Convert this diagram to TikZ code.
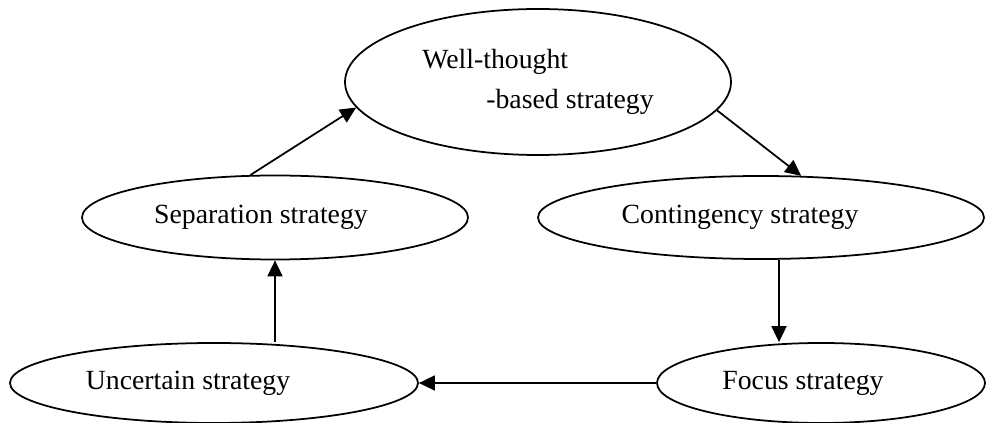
\documentclass[tikz,border=0pt]{standalone}
\usepackage{fontspec}
\setmainfont{Liberation Serif}
\usetikzlibrary{shapes.geometric,arrows.meta}
\tikzset{
	strat/.style={draw,ellipse,line width=1pt,inner sep=1pt,font=\fontsize{15.8}{22.8}\selectfont},
	arr/.style={-{Triangle[length=0.32cm,width=0.3cm]},line width=1pt}
}
\begin{document}
\begin{tikzpicture}
				\useasboundingbox (0,0) rectangle (19.74,8.46);
				\node[strat,minimum width=7.72cm,minimum height=2.92cm,align=left] (wellthought) at (10.76,6.82) {Well-thought\\\hspace*{1.28cm}-based strategy};
				\node[strat,minimum width=7.72cm,minimum height=1.68cm] (separation) at (5.50,4.11) {Separation strategy\hspace*{0.56cm}};
				\node[strat,minimum width=8.92cm,minimum height=1.66cm] (contingency) at (15.22,4.11) {Contingency strategy\hspace*{0.84cm}};
				\node[strat,minimum width=8.16cm,minimum height=1.60cm] (uncertain) at (4.28,0.80) {Uncertain strategy\hspace*{1.04cm}};
				\node[strat,minimum width=6.56cm,minimum height=1.60cm] (focus) at (16.42,0.80) {Focus strategy\hspace*{0.72cm}};
				\draw[arr] (separation.120) -- (wellthought.188);
				\draw[arr] (wellthought.-9) -- (contingency.46);
				\draw[arr] ([xshift=0.36cm]contingency.south) -- ([xshift=0.36cm]contingency.south |- focus.north);
				\draw[arr] (focus.west) -- (uncertain.east);
				\draw[arr] (separation.south |- uncertain.north) -- (separation.south);
			\end{tikzpicture}
\end{document}
